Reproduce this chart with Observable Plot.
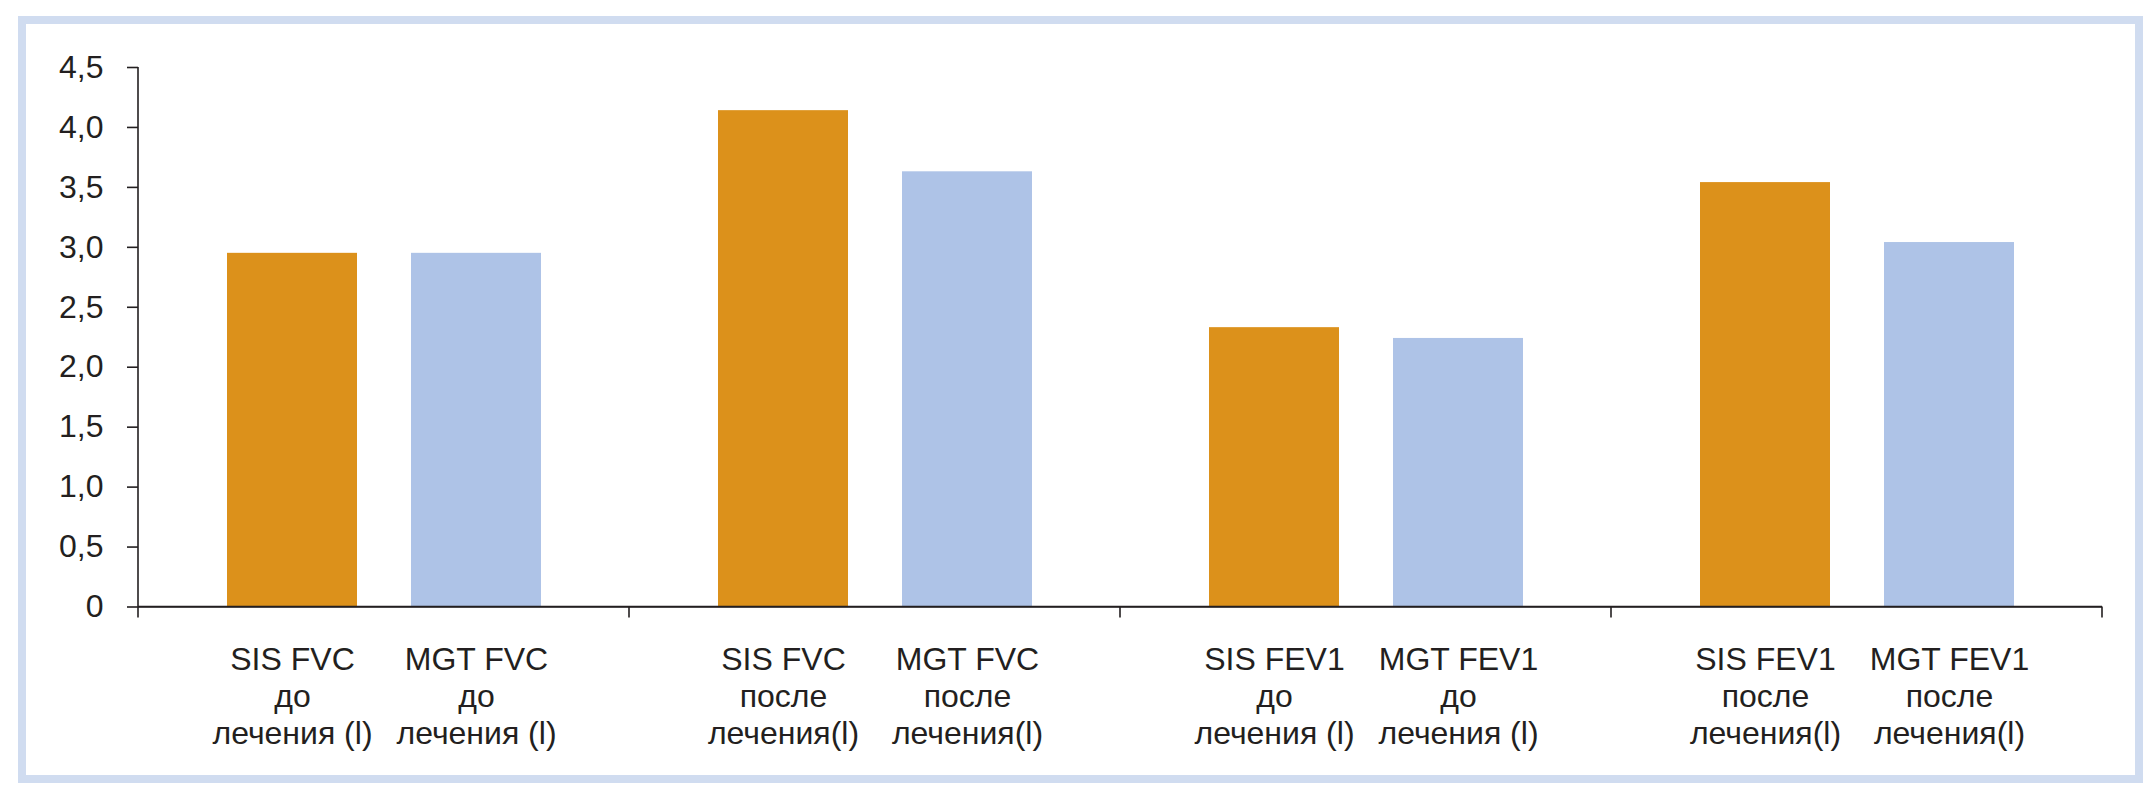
<!DOCTYPE html>
<html>
<head>
<meta charset="utf-8">
<script src="https://cdn.jsdelivr.net/npm/d3@7"></script>
<script src="https://cdn.jsdelivr.net/npm/@observablehq/plot@0.6"></script>
<style>
  html, body { margin: 0; padding: 0; background: #ffffff; }
  #wrap { position: relative; width: 2155px; height: 798px; overflow: hidden; }
  #frame { position: absolute; left: 18px; top: 16px; width: 2125px; height: 767px; box-sizing: border-box; border: 8px solid #d0dcf0; }
  #chart { position: absolute; left: 0; top: 0; }
</style>
</head>
<body>
<div id="wrap"><div id="frame"></div><div id="chart"></div></div>
<script>
// ---- data ----
const groups = ["FVC до", "FVC после", "FEV1 до", "FEV1 после"];
const series = ["SIS", "MGT"];
const valuesSIS = [2.95, 4.14, 2.33, 3.54];
const valuesMGT = [2.95, 3.63, 2.24, 3.04];
const labelsSIS = ["SIS FVC\nдо\nлечения (l)", "SIS FVC\nпосле\nлечения(l)", "SIS FEV1\nдо\nлечения (l)", "SIS FEV1\nпосле\nлечения(l)"];
const labelsMGT = ["MGT FVC\nдо\nлечения (l)", "MGT FVC\nпосле\nлечения(l)", "MGT FEV1\nдо\nлечения (l)", "MGT FEV1\nпосле\nлечения(l)"];
const yTicks = [0, 0.5, 1, 1.5, 2, 2.5, 3, 3.5, 4, 4.5];
const colors = ["#dc911b", "#aec3e7"];

const rows = [];
groups.forEach((g, i) => {
  rows.push({group: g, series: series[0], value: valuesSIS[i], label: labelsSIS[i]});
  rows.push({group: g, series: series[1], value: valuesMGT[i], label: labelsMGT[i]});
});

const ink = "#231f20";
const fmt = d => d === 0 ? "0" : d.toFixed(1).replace(".", ",");

const chart = Plot.plot({
  width: 2155,
  height: 798,
  marginLeft: 137,
  marginRight: 53,
  marginTop: 67,
  marginBottom: 191.5,
  style: {fontFamily: "'Liberation Sans', Arial, sans-serif", fontSize: "32px", color: ink, background: "transparent"},
  fx: {domain: groups, paddingInner: 0, paddingOuter: 0, axis: null, label: null},
  x: {domain: series, paddingInner: 0.295, paddingOuter: 0.479, axis: null, label: null},
  y: {domain: [0, 4.5], axis: null, label: null},
  color: {domain: series, range: colors},
  marks: [
    Plot.barY(rows, {fx: "group", x: "series", y: "value", fill: "series"}),
    Plot.ruleY([0], {stroke: ink, strokeWidth: 1.6}),
    Plot.axisY({ticks: yTicks, tickFormat: fmt, tickSize: 11, tickPadding: 24, stroke: ink, strokeWidth: 1.6, fontSize: 32, fill: ink, label: null}),
    Plot.text(rows, {fx: "group", x: "series", y: 0, text: "label", lineAnchor: "top", dy: 36, lineHeight: 1.17, fontSize: 32, fill: ink})
  ]
});
document.getElementById("chart").appendChild(chart);

// axis lines at the group boundaries, placed through Plot's own scales
const fxS = chart.scale("fx");
const yS = chart.scale("y");
const bounds = groups.map(g => fxS.apply(g)).concat([fxS.apply(groups[groups.length - 1]) + fxS.bandwidth]);
const y0 = yS.apply(0), yTop = yS.apply(yTicks[yTicks.length - 1]);
const svg = d3.select(chart.tagName.toLowerCase() === "svg" ? chart : chart.querySelector("svg"));
const gAx = svg.append("g").attr("stroke", ink).attr("stroke-width", 1.6).attr("fill", "none");
gAx.append("line").attr("x1", bounds[0]).attr("x2", bounds[0]).attr("y1", yTop).attr("y2", y0 + 11);
gAx.selectAll("line.b").data(bounds.slice(1)).join("line").attr("class", "b")
  .attr("x1", d => d).attr("x2", d => d).attr("y1", y0).attr("y2", y0 + 11);
gAx.append("line").attr("x1", bounds[0]).attr("x2", bounds[bounds.length - 1]).attr("y1", y0).attr("y2", y0);
</script>
</body>
</html>
